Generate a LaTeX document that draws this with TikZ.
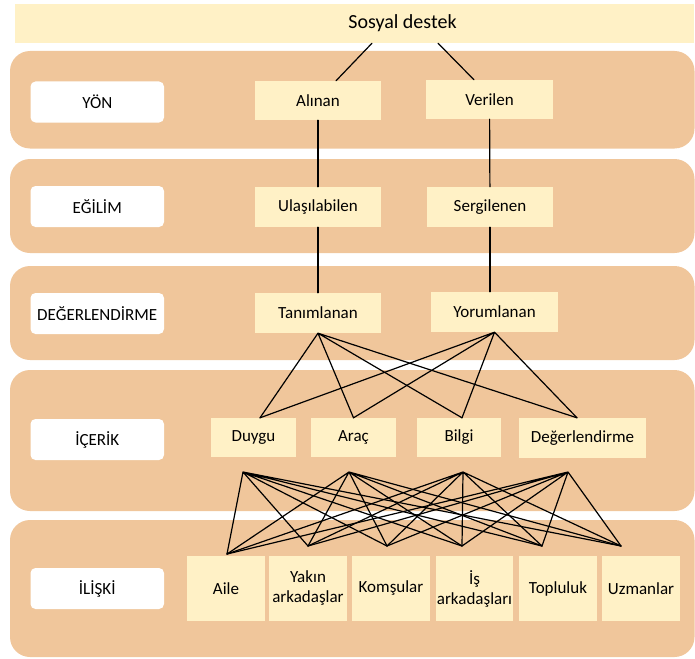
\documentclass[tikz,border=0pt]{standalone}
\usepackage{fontspec}
\setmainfont{Carlito}
\usepackage{tikz}

\definecolor{bantrenk}{RGB}{240,198,155}
\definecolor{kututrenk}{RGB}{255,241,198}

\begin{document}
\begin{tikzpicture}
[x=1pt,y=-1pt
,band/.style={fill=bantrenk,rounded corners=20pt,minimum width=684.5pt,inner sep=0pt}
,lbl/.style={fill=white,rounded corners=5pt,minimum width=133.5pt,minimum height=41pt,inner sep=0pt,font=\fontsize{17}{20}\selectfont}
,kt/.style={fill=kututrenk,minimum height=39pt,inner sep=0pt,align=center,font=\fontsize{17}{20}\selectfont}
,be/.style={draw=black,line width=1.2pt,line cap=round}]
\useasboundingbox (0,0) rectangle (695,658);
\node[fill=kututrenk,minimum width=679pt,minimum height=39pt,inner sep=0pt] (sdb) at (354.5,23.5) {};
\node[font=\fontsize{20}{24}\selectfont] (sd) at (402.5,23.5) {Sosyal destek};
\node[band,minimum height=97.5pt] (b1) at (352.25,99.75) {};
\node[band,minimum height=94pt] (b2) at (352.25,206) {};
\node[band,minimum height=94pt] (b3) at (352.25,313) {};
\node[band,minimum height=141pt] (b4) at (352.25,440.5) {};
\node[band,minimum height=137pt] (b5) at (352.25,588.5) {};
\node[lbl] (yon) at (97.25,102) {YÖN};
\node[lbl] (egilim) at (97.25,206.5) {EĞİLİM};
\node[lbl] (degerl) at (97.25,313.5) {DEĞERLENDİRME};
\node[lbl] (icerik) at (97.25,439.5) {İÇERİK};
\node[lbl] (iliski) at (97.25,588.5) {İLİŞKİ};
\node[kt,minimum width=126pt] (alinan) at (318,100.5) {Alınan};
\node[kt,minimum width=127pt] (verilen) at (489.5,99.5) {Verilen};
\node[kt,minimum width=126pt,minimum height=40pt] (ulas) at (318,207) {Ulaşılabilen};
\node[kt,minimum width=126pt,minimum height=40pt] (serg) at (490,207) {Sergilenen};
\node[kt,minimum width=126pt,minimum height=40pt] (tanim) at (318,313) {Tanımlanan};
\node[kt,minimum width=127pt,minimum height=40pt] (yorum) at (494.5,312) {Yorumlanan};
\node[kt,minimum width=85pt] (duygu) at (253.5,437.5) {Duygu};
\node[kt,minimum width=85pt] (arac) at (353.5,437.5) {Araç};
\node[kt,minimum width=84pt] (bilgi) at (459,437.5) {Bilgi};
\node[kt,minimum width=127pt,minimum height=40pt] (deg) at (582.5,438) {Değerlendirme};
\node[kt,minimum width=78pt,minimum height=65pt] (aile) at (226,588.5) {Aile};
\node[kt,minimum width=78pt,minimum height=65pt] (yakin) at (308,588.5) {Yakın\\arkadaşlar};
\node[kt,minimum width=78pt,minimum height=65pt] (komsu) at (391,588.5) {Komşular};
\node[kt,minimum width=77pt,minimum height=65pt] (is) at (474.5,588.5) {İş\\arkadaşları};
\node[kt,minimum width=78pt,minimum height=65pt] (toplu) at (558,588.5) {Topluluk};
\node[kt,minimum width=78pt,minimum height=65pt] (uzman) at (641,588.5) {Uzmanlar};
% uc noktalar
\coordinate (duyguN) at ([xshift=6.5]duygu.north);
\coordinate (aracN) at (arac.north);
\coordinate (bilgiN) at ([xshift=3]bilgi.north);
\coordinate (degN) at ([xshift=-5.5]deg.north);
\coordinate (duyguS) at (243,472);
\coordinate (aracS) at (349,472);
\coordinate (bilgiS) at (463,472);
\coordinate (degS) at (568,472);
\coordinate (aileN) at (227,554);
\coordinate (yakinN) at (308,546);
\coordinate (komsuN) at (387,546);
\coordinate (isN) at (462,546);
\coordinate (topluN) at (542,546);
\coordinate (uzmanN) at (621,546);
\draw[be] ([xshift=17.5]sdb.south) -- ([xshift=18]alinan.north);
\draw[be] ([xshift=83.5]sdb.south) -- ([xshift=-15.5]verilen.north);
\draw[be] (alinan) -- (ulas);
\draw[be] (verilen) -- (serg);
\draw[be] (ulas) -- (tanim);
\draw[be] (serg.south) -- (serg.south |- yorum.north);
\draw[be] (tanim.south) -- (duyguN) (tanim.south) -- (aracN) (tanim.south) -- (bilgiN) (tanim.south) -- (degN);
\draw[be] (yorum.south) -- (duyguN) (yorum.south) -- (aracN) (yorum.south) -- (bilgiN) (yorum.south) -- (degN);
\draw[be] (duyguS) -- (aileN) (duyguS) -- (yakinN) (duyguS) -- (komsuN) (duyguS) -- (isN) (duyguS) -- (topluN) (duyguS) -- (uzmanN);
\draw[be] (aracS) -- (aileN) (aracS) -- (yakinN) (aracS) -- (komsuN) (aracS) -- (isN) (aracS) -- (topluN) (aracS) -- (uzmanN);
\draw[be] (bilgiS) -- (aileN) (bilgiS) -- (yakinN) (bilgiS) -- (komsuN) (bilgiS) -- (isN) (bilgiS) -- (topluN) (bilgiS) -- (uzmanN);
\draw[be] (degS) -- (aileN) (degS) -- (yakinN) (degS) -- (komsuN) (degS) -- (isN) (degS) -- (topluN) (degS) -- (uzmanN);
\end{tikzpicture}
\end{document}
